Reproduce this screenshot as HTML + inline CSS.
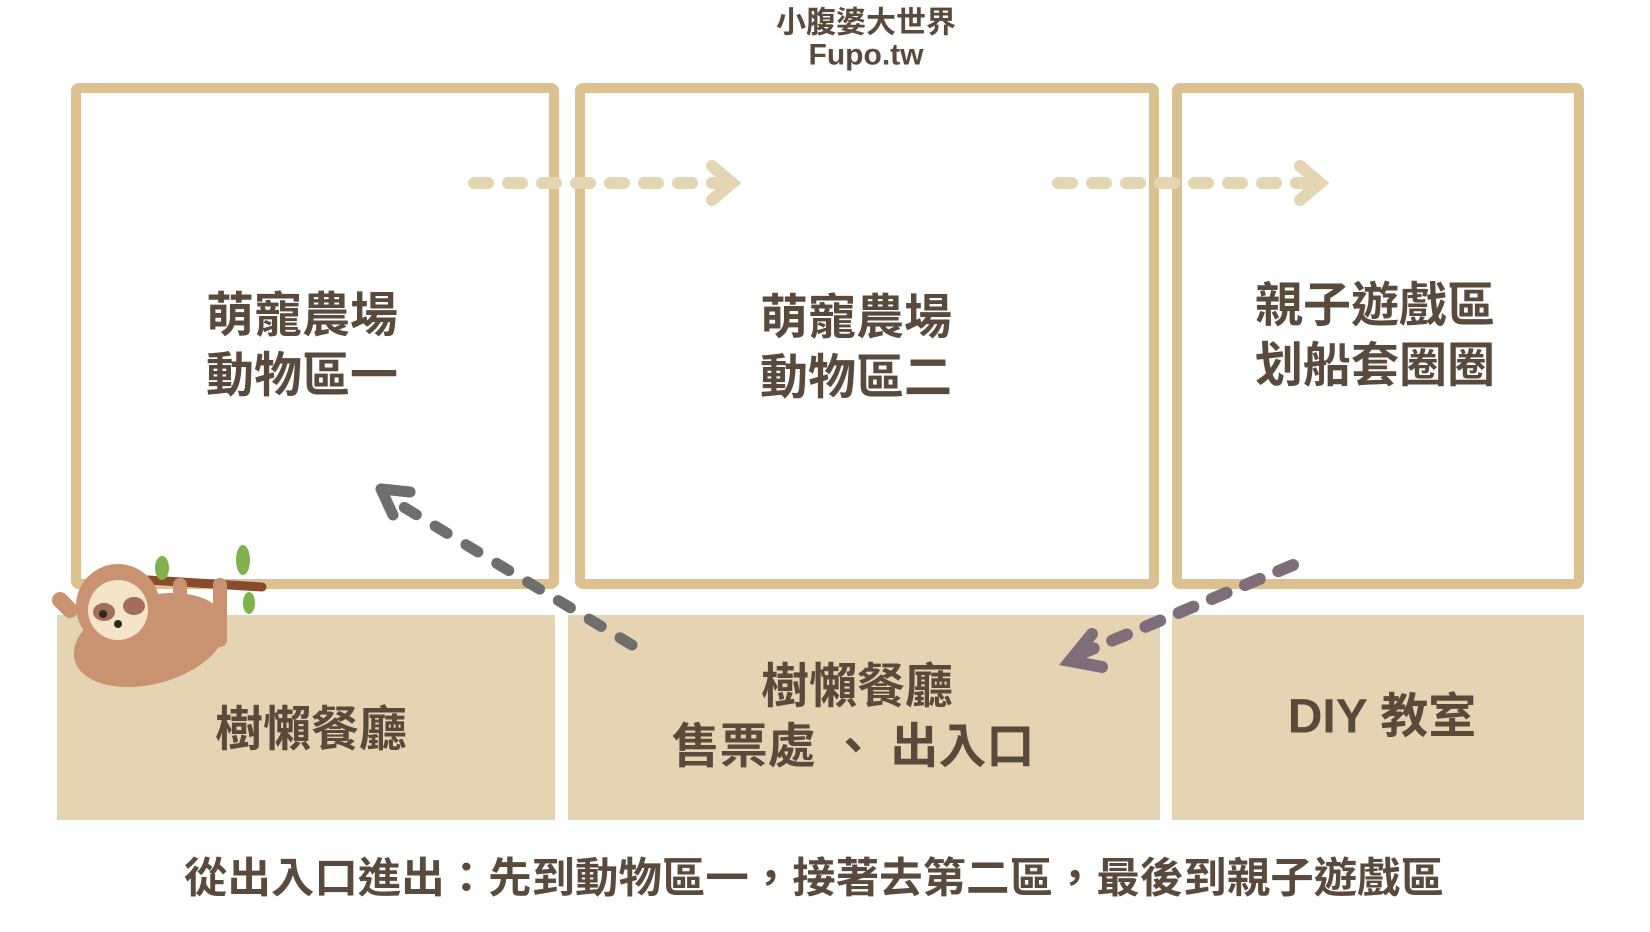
<!DOCTYPE html>
<html><head><meta charset="utf-8"><style>
html,body{margin:0;padding:0;background:#fff;}
svg{display:block}
text{font-family:"Liberation Sans","Noto Sans CJK TC",sans-serif;font-weight:bold;fill:#5a4a3b;text-anchor:middle;dominant-baseline:central}
</style></head><body>
<svg width="1650" height="932" viewBox="0 0 1650 932">
<text x="866" y="23" font-size="30">小腹婆大世界</text>
<text x="866" y="55" font-size="30">Fupo.tw</text>
<g fill="none" stroke="#dbc18f" stroke-width="10">
<rect x="76" y="88" width="478" height="496" rx="3"/>
<rect x="580" y="88" width="574" height="496" rx="3"/>
<rect x="1177" y="88" width="402" height="496" rx="3"/>
</g>
<g fill="#e4d4b1">
<rect x="57" y="615" width="498" height="205"/>
<rect x="568" y="615" width="592" height="205"/>
<rect x="1172" y="615" width="412" height="205"/>
</g>
<g stroke="#e4d6b2" stroke-width="12" stroke-linecap="round" fill="none">
<path d="M474 183 H730" stroke-dasharray="14 20"/>
<path d="M712 166 L732 183 L712 200"/>
<path d="M1058 183 H1318" stroke-dasharray="14 20"/>
<path d="M1300 166 L1320 183 L1300 200"/>
</g>
<g stroke="#6e6e6e" stroke-width="11" stroke-linecap="round" fill="none">
<path d="M632 645 L392 500" stroke-dasharray="14 22"/>
<path d="M381 489 L410 492 M381 489 L393 515"/>
</g>
<g stroke="#7d6e79" stroke-width="12" stroke-linecap="round" fill="none">
<path d="M1293 565 L1085 652" stroke-dasharray="16 20"/>
<path d="M1092 634 L1070 661 L1102 667"/>
</g>
<g>
<path d="M148 580 L262 587" stroke="#8a4a2c" stroke-width="9" stroke-linecap="round"/>
<ellipse cx="162" cy="568" rx="7" ry="12" fill="#7fb24c"/>
<ellipse cx="243" cy="560" rx="7" ry="15" fill="#7fb24c"/>
<ellipse cx="249" cy="603" rx="6" ry="11" fill="#7fb24c"/>
<ellipse cx="150" cy="640" rx="78" ry="44" fill="#c99270" transform="rotate(-15 150 640)"/>
<circle cx="118" cy="606" r="42" fill="#c99270"/>
<circle cx="118" cy="610" r="30" fill="#f5e5c8"/>
<ellipse cx="104" cy="612" rx="11" ry="9" fill="#a36d58"/>
<ellipse cx="134" cy="606" rx="11" ry="9" fill="#a36d58"/>
<circle cx="103" cy="614" r="4" fill="#2a2a2a"/>
<circle cx="118" cy="624" r="4" fill="#2a2a2a"/>
<path d="M70 610 L60 600" stroke="#c99270" stroke-width="16" stroke-linecap="round"/>
<path d="M180 585 L180 610 M220 585 L220 640" stroke="#c99270" stroke-width="14" stroke-linecap="round"/>
</g>
<text x="302" y="316" font-size="48">萌寵農場</text>
<text x="302" y="376" font-size="48">動物區一</text>
<text x="856" y="318" font-size="48">萌寵農場</text>
<text x="856" y="378" font-size="48">動物區二</text>
<text x="1375" y="306" font-size="48">親子遊戲區</text>
<text x="1375" y="366" font-size="48">划船套圈圈</text>
<text x="311" y="730" font-size="48">樹懶餐廳</text>
<text x="857" y="687" font-size="48">樹懶餐廳</text>
<text x="853" y="747" font-size="48" xml:space="preserve">售票處 、 出入口</text>
<text x="1382" y="717" font-size="48" xml:space="preserve">DIY 教室</text>
<text x="814" y="878" font-size="42" textLength="1260" lengthAdjust="spacingAndGlyphs">從出入口進出：先到動物區一，接著去第二區，最後到親子遊戲區</text>
</svg>
</body></html>
